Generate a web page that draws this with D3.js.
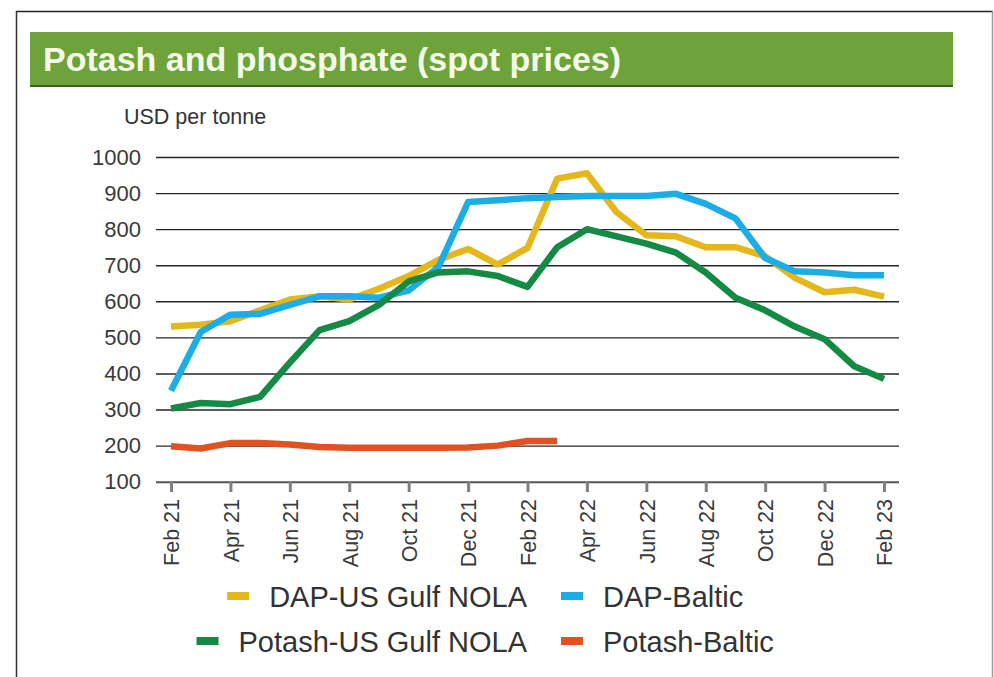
<!DOCTYPE html>
<html>
<head>
<meta charset="utf-8">
<script src="https://cdn.jsdelivr.net/npm/d3@7"></script>
<style>
  html, body { margin: 0; padding: 0; background: #ffffff; }
  svg { display: block; font-family: "Liberation Sans", Arial, Helvetica, sans-serif; }
</style>
</head>
<body>
<svg id="chart" width="994" height="677"></svg>
<script>
// ---- Data ----
const months = ["Feb 21","Mar 21","Apr 21","May 21","Jun 21","Jul 21","Aug 21","Sep 21","Oct 21","Nov 21","Dec 21","Jan 22",
                "Feb 22","Mar 22","Apr 22","May 22","Jun 22","Jul 22","Aug 22","Sep 22","Oct 22","Nov 22","Dec 22","Jan 23","Feb 23"];
const tickLabels = ["Feb 21","Apr 21","Jun 21","Aug 21","Oct 21","Dec 21","Feb 22","Apr 22","Jun 22","Aug 22","Oct 22","Dec 22","Feb 23"];
const yTicks = [100,200,300,400,500,600,700,800,900,1000];

const dapUsGulf   = [530,535,545,575,605,614,605,635,670,715,745,702,748,940,955,847,783,780,750,750,725,665,625,632,613];
const dapBaltic   = [352,515,563,565,590,614,614,610,630,695,875,880,886,889,892,892,892,898,870,830,720,683,680,672,672];
const potashUsGulf= [303,318,315,335,430,520,545,590,655,680,683,670,640,750,800,780,760,735,680,610,575,530,495,420,385];
const potashBaltic= [198,192,207,207,203,196,194,194,194,194,195,200,213,213];

const seriesNames = ["DAP-US Gulf NOLA","DAP-Baltic","Potash-US Gulf NOLA","Potash-Baltic"];
const seriesColors = ["#e4b81c","#1dade6","#148a45","#e0521f"];

// ---- Drawing ----
const svg = d3.select("#chart");

// frame
svg.append("line").attr("x1",16).attr("x2",993).attr("y1",11.5).attr("y2",11.5).attr("stroke","#222").attr("stroke-width",1.5);
svg.append("line").attr("x1",16.5).attr("x2",16.5).attr("y1",11).attr("y2",677).attr("stroke","#333").attr("stroke-width",1.5);
svg.append("line").attr("x1",992.5).attr("x2",992.5).attr("y1",11).attr("y2",677).attr("stroke","#999").attr("stroke-width",1.5);

// title banner
svg.append("rect").attr("x",30).attr("y",32).attr("width",923).attr("height",53).attr("fill","#6ea23a");
svg.append("rect").attr("x",30).attr("y",85).attr("width",923).attr("height",2).attr("fill","#3e5f25");
svg.append("text").attr("x",43).attr("y",71).attr("fill","#f4fbe9")
  .attr("font-size",34).attr("font-weight","bold")
  .text("Potash and phosphate (spot prices)");

// scales
const x = d3.scaleLinear().domain([0, months.length - 1]).range([171, 884]);
const y = d3.scaleLinear().domain([100, 1000]).range([481.7, 157]);

// y-axis unit label
svg.append("text").attr("x",124).attr("y",124).attr("fill","#333").attr("font-size",21.5)
  .text("USD per tonne");

// gridlines + y labels via axis
const yAxis = d3.axisLeft(y).tickValues(yTicks).tickSize(0).tickPadding(15).tickFormat(d3.format("d"));
const gy = svg.append("g").attr("transform","translate(156,0)").call(yAxis);
gy.select(".domain").remove();
gy.selectAll("text").attr("font-size",22).attr("fill","#3a3a3a").attr("font-family",'"Liberation Sans", Arial, sans-serif');
gy.selectAll(".tick").append("line")
  .attr("x1",0).attr("x2",743).attr("y1",0).attr("y2",0)
  .attr("stroke", d => d === 100 ? "#555" : "#262626")
  .attr("stroke-width", d => d === 100 ? 2 : 1.4);

// x axis
const tickIdx = tickLabels.map(l => months.indexOf(l));
const xAxis = d3.axisBottom(x).tickValues(tickIdx).tickSize(10).tickPadding(0)
  .tickFormat(i => months[i]);
const gx = svg.append("g").attr("transform","translate(0,482)").call(xAxis);
gx.select(".domain").remove();
gx.selectAll(".tick line").attr("stroke","#808080").attr("stroke-width",3);
gx.selectAll(".tick text")
  .attr("font-size",21.5).attr("fill","#3a3a3a").attr("font-family",'"Liberation Sans", Arial, sans-serif')
  .attr("transform","rotate(-90)")
  .attr("text-anchor","end")
  .attr("x",-17).attr("y",0).attr("dy","0.36em");

// lines
const line = d3.line().x((d,i) => x(i)).y(d => y(d)).curve(d3.curveLinear);
const allSeries = [dapUsGulf, dapBaltic, potashUsGulf, potashBaltic];
allSeries.forEach((s, k) => {
  svg.append("path").datum(s)
    .attr("d", line)
    .attr("fill","none")
    .attr("stroke", seriesColors[k])
    .attr("stroke-width", 6.5)
    .attr("stroke-linejoin","round")
    .attr("stroke-linecap","butt");
});

// legend
const legendPos = [
  {anchor:"end", tx:527, ty:607},
  {anchor:"start", tx:603, ty:607},
  {anchor:"end", tx:527, ty:652},
  {anchor:"start", tx:603, ty:652}
];
seriesNames.forEach((name, k) => {
  const p = legendPos[k];
  const t = svg.append("text").attr("x",p.tx).attr("y",p.ty)
    .attr("text-anchor",p.anchor).attr("font-size",29).attr("fill","#333").text(name);
  const w = t.node().getComputedTextLength();
  const start = p.anchor === "end" ? p.tx - w : p.tx;
  svg.append("rect").attr("x", start - 42).attr("y", p.ty - 15).attr("width",22).attr("height",8)
    .attr("fill", seriesColors[k]);
});
</script>
</body>
</html>
